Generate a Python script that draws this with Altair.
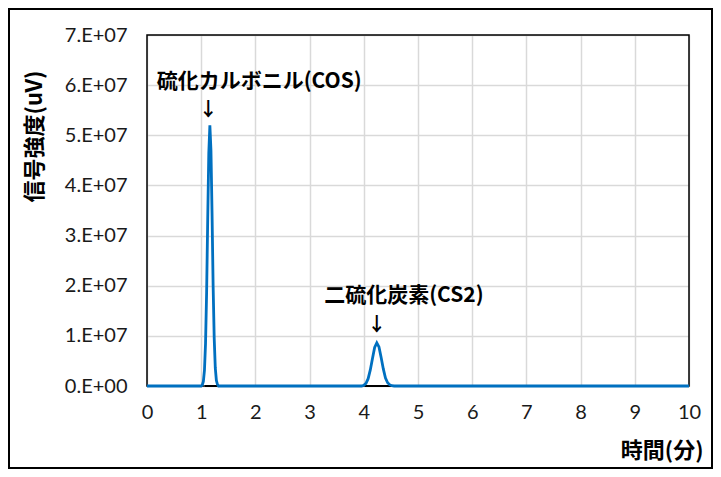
import json
import altair as alt
import pandas as pd

# ---- data ----
time_min = [0.00, 1.00, 1.02, 1.04, 1.06, 1.08, 1.10, 1.12, 1.14, 1.16, 1.18, 1.20,
            1.22, 1.24, 1.26, 1.28, 1.30, 1.32, 3.96, 4.00, 4.04, 4.08, 4.12, 4.16,
            4.20, 4.24, 4.28, 4.32, 4.36, 4.40, 4.44, 4.48, 4.52, 4.56, 10.00]
signal_uv = [0.0, 0.0, 0.02e7, 0.09e7, 0.31e7, 0.85e7, 1.87e7, 3.31e7, 4.64e7, 5.2e7,
             4.70e7, 3.45e7, 2.0e7, 0.95e7, 0.36e7, 0.11e7, 0.03e7, 0.0, 0.0, 0.016e7,
             0.054e7, 0.146e7, 0.32e7, 0.55e7, 0.77e7, 0.86e7, 0.78e7, 0.57e7, 0.34e7,
             0.16e7, 0.065e7, 0.022e7, 0.006e7, 0.0, 0.0]

baseline_start = [1.07, 4.02]
baseline_end = [1.29, 4.51]

x_ticks = [0, 1, 2, 3, 4, 5, 6, 7, 8, 9, 10]
y_ticks = [0, 1e7, 2e7, 3e7, 4e7, 5e7, 6e7, 7e7]
y_tick_labels = ["0.E+00", "1.E+07", "2.E+07", "3.E+07", "4.E+07", "5.E+07", "6.E+07", "7.E+07"]

peak_labels = ["硫化カルボニル(COS)", "二硫化炭素(CS2)"]
label_x = [2.07, 4.74]
label_y = [6.06e7, 1.79e7]
arrow_x = [1.13, 4.24]
arrow_y = [5.5e7, 1.22e7]

x_title = "時間(分)"
y_title = "信号強度(uV)"

# ---- tables ----
trace = pd.DataFrame({"t": time_min, "s": signal_uv})
bases = pd.DataFrame({"t": baseline_start, "t2": baseline_end, "s": [0.0] * len(baseline_start)})
labels = pd.DataFrame({"t": label_x, "s": label_y, "text": peak_labels})
arrows = pd.DataFrame({"t": arrow_x, "s": arrow_y, "text": ["↓"] * len(arrow_x)})
one_row = pd.DataFrame({"a": [0]})

W, H = 542, 351
PAD = {"left": 139, "top": 27, "right": 24, "bottom": 83}

x_scale = alt.Scale(domain=[0, 10], nice=False, zero=False)
y_scale = alt.Scale(domain=[0, 7e7], nice=False)

label_expr = json.dumps(y_tick_labels) + "[round(datum.value / 1e7)]"

x_axis = alt.Axis(
    values=x_ticks, title=x_title, grid=True, gridColor="#D9D9D9", gridWidth=1.5,
    ticks=False, tickSize=0, domain=False, labelFont="Lato", labelFontSize=20,
    labelColor="#1a1a1a", labelPadding=16, labelFlush=False,
    titleFont="Noto Sans CJK JP", titleFontSize=22, titleFontWeight="bold",
    titleColor="#000000", titleX=556, titleY=64, titleAlign="right",
    titleBaseline="middle",
)
y_axis = alt.Axis(
    values=y_ticks, labelExpr=label_expr, title=y_title, grid=True,
    gridColor="#D9D9D9", gridWidth=1.5, ticks=False, tickSize=0, domain=False,
    labelFont="Lato", labelFontSize=20, labelColor="#1a1a1a", labelPadding=20,
    titleFont="Noto Sans CJK JP", titleFontSize=22, titleFontWeight="bold",
    titleColor="#000000", titleX=-113, titleY=101, titleAlign="center",
    titleBaseline="middle", titleAngle=-90,
)

X = alt.X("t:Q", scale=x_scale, axis=x_axis, title=x_title)
Y = alt.Y("s:Q", scale=y_scale, axis=y_axis, title=y_title)

# plot-area border drawn above the grid lines
border = alt.Chart(one_row).mark_rect(
    filled=False, fill=None, stroke="#000000", strokeWidth=1.5,
).encode(x=alt.value(0), x2=alt.value(W), y=alt.value(0), y2=alt.value(H))

base_rules = alt.Chart(bases).mark_rule(color="#000000", strokeWidth=2).encode(
    x=X, x2="t2:Q", y=Y,
)

line = alt.Chart(trace).mark_line(color="#0070C0", strokeWidth=2.8, interpolate="linear").encode(
    x=X, y=Y,
)

texts = alt.Chart(labels).mark_text(
    font="Noto Sans CJK JP", fontSize=21, fontWeight="bold", color="#000000",
    align="center", baseline="middle",
).encode(x=X, y=Y, text="text:N")

arrow_marks = alt.Chart(arrows).mark_text(
    font="Noto Sans CJK JP", fontSize=19, fontWeight="bold", color="#000000",
    align="center", baseline="middle",
).encode(x=X, y=Y, text="text:N")

frame = alt.Chart(one_row).mark_rect(
    filled=False, fill=None, stroke="#000000", strokeWidth=2,
).encode(
    x=alt.value(-PAD["left"] + 1), x2=alt.value(W + PAD["right"] - 1),
    y=alt.value(-PAD["top"] + 1), y2=alt.value(H + PAD["bottom"] - 1),
)

chart = alt.layer(border, base_rules, line, texts, arrow_marks, frame).properties(
    width=W, height=H, padding=PAD, autosize=alt.AutoSizeParams(type="none"),
    background="white",
).configure_view(stroke=None)

chart.save("out.html", embed_options={"renderer": "svg", "actions": False})
